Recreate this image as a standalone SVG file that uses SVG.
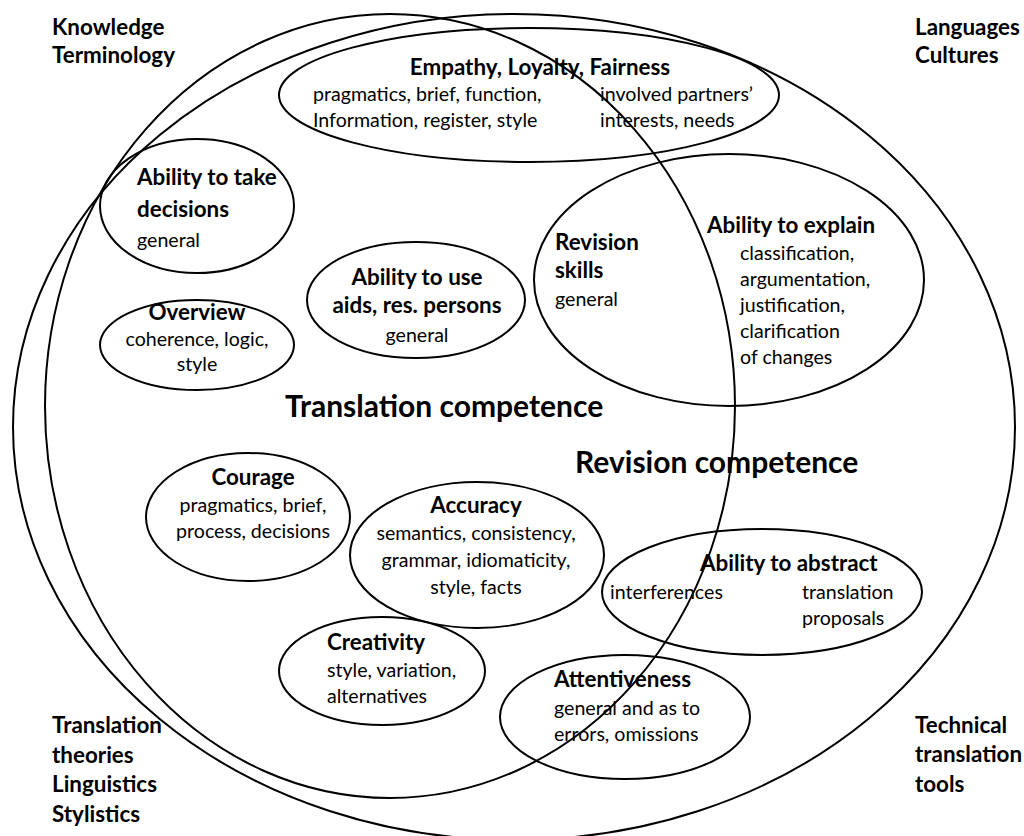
<svg xmlns="http://www.w3.org/2000/svg" width="1024" height="836" viewBox="0 0 1024 836">
  <style>
    .ring { fill: none; stroke: #000; stroke-width: 2; }
    text { font-family: Lato, "Open Sans", "Liberation Sans", sans-serif; fill: #000; }
    .t { font-weight: 700; font-size: 22.4px; }
    .d { font-weight: 400; font-size: 19.6px; }
    .big { font-weight: 700; font-size: 30px; }
    .mid { text-anchor: middle; }
  </style>
  <rect width="1024" height="836" fill="#fff"/>

  <!-- outer knowledge areas in the corners -->
  <g id="corner-labels" class="t">
    <text x="52" y="35">Knowledge</text>
    <text x="52" y="63">Terminology</text>
    <text x="915" y="35">Languages</text>
    <text x="915" y="63">Cultures</text>
    <text x="52" y="733">Translation</text>
    <text x="52" y="763">theories</text>
    <text x="52" y="792">Linguistics</text>
    <text x="52" y="822">Stylistics</text>
    <text x="915" y="733">Technical</text>
    <text x="915" y="762">translation</text>
    <text x="915" y="792">tools</text>
  </g>

  <!-- the two large overlapping competence areas -->
  <g id="translation-competence">
    <ellipse class="ring" cx="390" cy="406" rx="345" ry="392"/>
    <text class="big" x="285" y="417">Translation competence</text>
  </g>
  <g id="revision-competence">
    <ellipse class="ring" cx="514" cy="427" rx="501" ry="413"/>
    <text class="big" x="575" y="473">Revision competence</text>
  </g>

  <g id="empathy">
    <ellipse class="ring" cx="529" cy="95" rx="250" ry="67"/>
    <text class="t mid" x="540" y="75">Empathy, Loyalty, Fairness</text>
    <text class="d" x="313" y="101">pragmatics, brief, function,</text>
    <text class="d" x="313" y="127">Information, register, style</text>
    <text class="d" x="600" y="101">involved partners’</text>
    <text class="d" x="600" y="127">interests, needs</text>
  </g>

  <g id="decisions">
    <ellipse class="ring" cx="197" cy="206" rx="97" ry="67"/>
    <text class="t" x="137" y="185">Ability to take</text>
    <text class="t" x="137" y="217">decisions</text>
    <text class="d" x="137" y="247">general</text>
  </g>

  <g id="aids">
    <ellipse class="ring" cx="416" cy="300" rx="109" ry="58"/>
    <text class="t mid" x="417" y="285">Ability to use</text>
    <text class="t mid" x="417" y="313">aids, res. persons</text>
    <text class="d mid" x="417" y="342">general</text>
  </g>

  <g id="overview">
    <ellipse class="ring" cx="197" cy="345" rx="97" ry="45"/>
    <text class="t mid" x="197" y="320">Overview</text>
    <text class="d mid" x="197" y="346">coherence, logic,</text>
    <text class="d mid" x="197" y="371">style</text>
  </g>

  <g id="revision-skills">
    <ellipse class="ring" cx="729" cy="280" rx="195" ry="126"/>
    <text class="t" x="555" y="250">Revision</text>
    <text class="t" x="555" y="278">skills</text>
    <text class="d" x="555" y="306">general</text>
    <text class="t" x="707" y="233">Ability to explain</text>
    <text class="d" x="740" y="260">classification,</text>
    <text class="d" x="740" y="286">argumentation,</text>
    <text class="d" x="740" y="312">justification,</text>
    <text class="d" x="740" y="338">clarification</text>
    <text class="d" x="740" y="364">of changes</text>
  </g>

  <g id="courage">
    <ellipse class="ring" cx="248" cy="517" rx="102" ry="64"/>
    <text class="t mid" x="253" y="485">Courage</text>
    <text class="d mid" x="253" y="512">pragmatics, brief,</text>
    <text class="d mid" x="253" y="538">process, decisions</text>
  </g>

  <g id="accuracy">
    <ellipse class="ring" cx="477" cy="555" rx="127" ry="73"/>
    <text class="t mid" x="476" y="513">Accuracy</text>
    <text class="d mid" x="476" y="540">semantics, consistency,</text>
    <text class="d mid" x="476" y="567">grammar, idiomaticity,</text>
    <text class="d mid" x="476" y="594">style, facts</text>
  </g>

  <g id="creativity">
    <ellipse class="ring" cx="382" cy="671" rx="103" ry="54"/>
    <text class="t" x="327" y="650">Creativity</text>
    <text class="d" x="327" y="677">style, variation,</text>
    <text class="d" x="327" y="703">alternatives</text>
  </g>

  <g id="attentiveness">
    <ellipse class="ring" cx="625" cy="717" rx="125" ry="62"/>
    <text class="t" x="554" y="687">Attentiveness</text>
    <text class="d" x="554" y="715">general and as to</text>
    <text class="d" x="554" y="741">errors, omissions</text>
  </g>

  <g id="abstract">
    <ellipse class="ring" cx="762" cy="592" rx="160" ry="63"/>
    <text class="t" x="700" y="571">Ability to abstract</text>
    <text class="d" x="610" y="599">interferences</text>
    <text class="d" x="802" y="599">translation</text>
    <text class="d" x="802" y="625">proposals</text>
  </g>
</svg>
